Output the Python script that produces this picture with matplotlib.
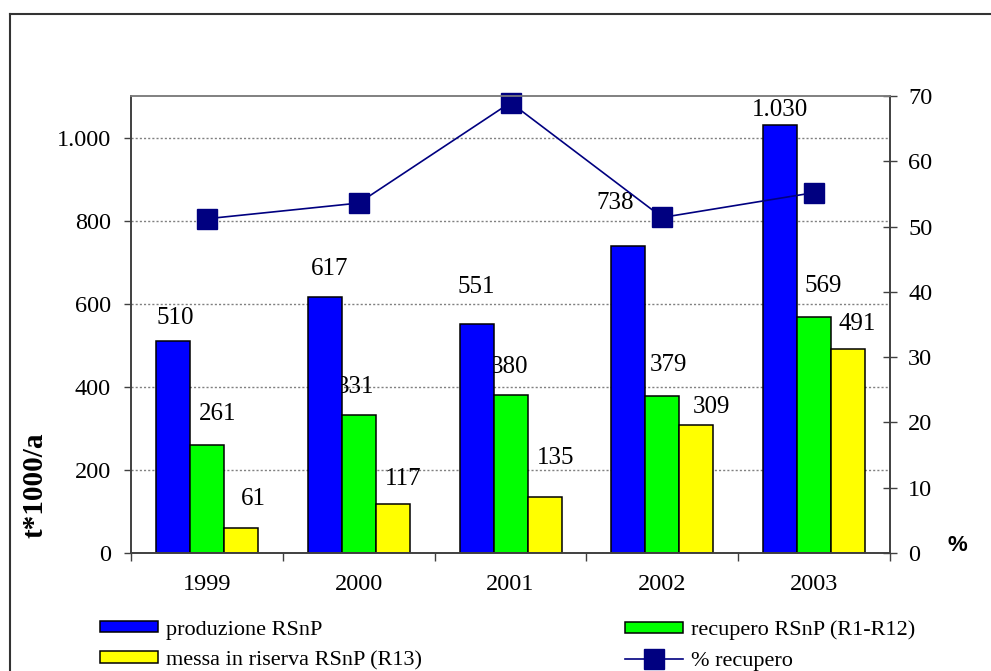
import numpy as np
import matplotlib
matplotlib.use("Agg")
import matplotlib.pyplot as plt
from matplotlib.lines import Line2D
from matplotlib.ticker import FuncFormatter

plt.rcParams['font.family'] = ['Liberation Serif', 'DejaVu Serif']

years = ["1999", "2000", "2001", "2002", "2003"]
produzione = [510, 617, 551, 738, 1030]
recupero = [261, 331, 380, 379, 569]
riserva = [61, 117, 135, 309, 491]
perc_recupero = [51.2, 53.6, 69.0, 51.4, 55.2]

# label offsets in pixels (dx, dy) from the top of each bar, as the labels sit in the original
off_prod = [(2, 23), (5, 28), (0, 37), (-13, 43), (0, 15)]
off_rec = [(11, 31), (-3, 28), (-1, 28), (6, 31), (9, 31)]
off_ris = [(12, 29), (10, 25), (11, 39), (15, 18), (9, 25)]

names = ["produzione RSnP", "recupero RSnP (R1-R12)", "messa in riserva RSnP (R13)", "% recupero"]
colors = ["#0000FF", "#00FF00", "#FFFF00"]
line_color = "#000080"
axis_color = "#404040"


def thousands(v, pos):
    return "{:,.0f}".format(v).replace(",", ".")


fig = plt.figure(figsize=(9.91, 6.71), dpi=100)
ax = fig.add_axes([0.1322, 0.1759, 0.7659, 0.6810])
ax2 = ax.twinx()

x = np.arange(len(years))
w = 0.224
series = [produzione, recupero, riserva]
offsets = [off_prod, off_rec, off_ris]
bars = []
for i, (vals, offs) in enumerate(zip(series, offsets)):
    xs = x + (i - 1) * w
    b = ax.bar(xs, vals, w, color=colors[i], edgecolor="black", linewidth=1.1, zorder=2)
    bars.append(b)
    for xi, v, (dx, dy) in zip(xs, vals, offs):
        ax.annotate(thousands(v, None), (xi, v), xytext=(dx, dy), textcoords="offset pixels",
                    ha="center", va="center", fontsize=18, zorder=1.5)

ln, = ax2.plot(x, perc_recupero, color=line_color, linewidth=1.2, marker="s",
               markersize=14, markerfacecolor=line_color, markeredgecolor=line_color,
               clip_on=False)

ax.set_xlim(-0.5, len(years) - 0.5)
ax.set_ylim(0, 1100)
ax2.set_ylim(0, 70)

ax.set_yticks(np.arange(0, 1001, 200))
ax.yaxis.set_major_formatter(FuncFormatter(thousands))
ax2.set_yticks(np.arange(0, 71, 10))

ax.set_xticks(x)
ax.set_xticklabels(years)
ax.set_xticks(np.arange(-0.5, len(years), 1.0), minor=True)
ax.tick_params(axis="x", which="major", length=0, pad=15, labelsize=17.5)
ax.tick_params(axis="x", which="minor", length=6, direction="out", color=axis_color, width=1)
ax.tick_params(axis="y", length=5, direction="out", pad=9.5, labelsize=17.5, color=axis_color, width=1)
ax2.tick_params(axis="y", length=10, direction="inout", pad=8, labelsize=17.5, color=axis_color, width=1)

ax.yaxis.grid(True, linestyle=(0, (1.5, 1.5)), color="#808080", linewidth=1)
ax.set_axisbelow(True)

for a in (ax, ax2):
    for s in ("left", "right", "bottom"):
        a.spines[s].set_color(axis_color)
        a.spines[s].set_linewidth(1.2)
    a.spines["top"].set_color("#808080")
    a.spines["top"].set_linewidth(1.2)

fig.text(0.0353, 0.2772, "t*1000/a", rotation=90, ha="center", va="center",
         fontsize=21, fontweight="bold")
fig.text(0.9657, 0.1863, "%", ha="center", va="center", fontsize=16,
         fontweight="bold", family="Liberation Sans")

leg_kw = dict(loc="upper left", frameon=False, fontsize=16, handlelength=2.6,
              handleheight=0.4, labelspacing=0.5, handletextpad=0.38,
              borderaxespad=0, borderpad=0)
fig.legend([bars[0], bars[2]], [names[0], names[2]], bbox_to_anchor=(0.1009, 0.075), **leg_kw)
fig.legend([bars[1], ln], [names[1], names[3]], bbox_to_anchor=(0.6307, 0.075), **leg_kw)

# outer border of the chart (cut at right and bottom as in the original)
fig.add_artist(Line2D([9.5 / 991, 1.0], [1 - 13.5 / 671, 1 - 13.5 / 671], color="#333333", linewidth=1.5))
fig.add_artist(Line2D([9.5 / 991, 9.5 / 991], [0.0, 1 - 13.5 / 671], color="#333333", linewidth=1.5))

fig.savefig("out.png", dpi=100)
